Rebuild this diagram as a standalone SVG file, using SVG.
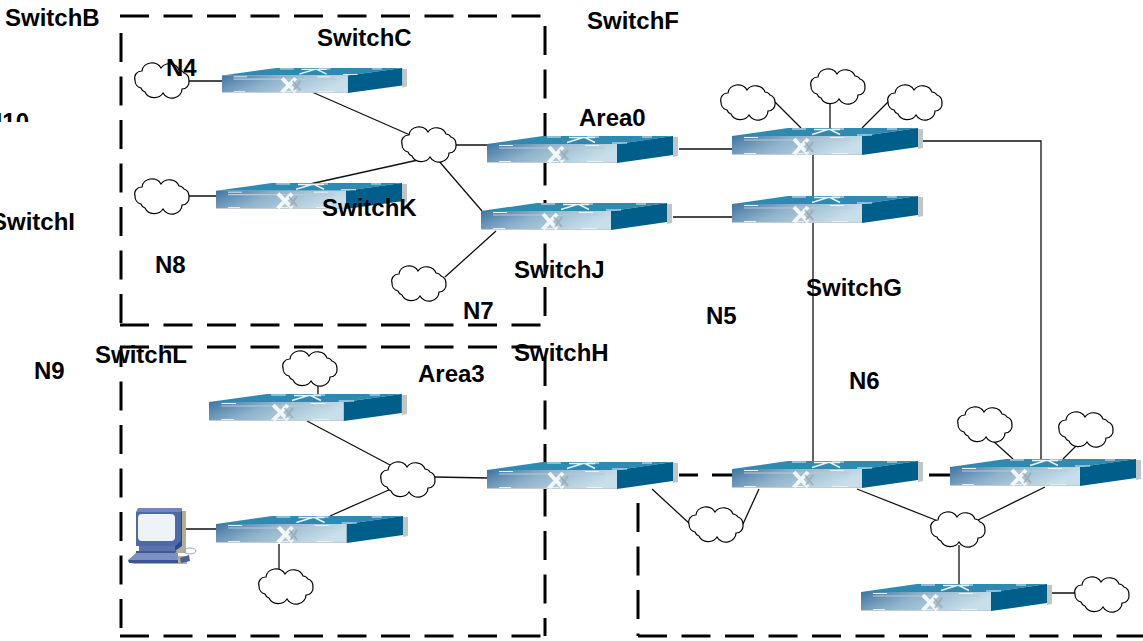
<svg xmlns="http://www.w3.org/2000/svg" xmlns:xlink="http://www.w3.org/1999/xlink" width="1143" height="641" viewBox="0 0 1143 641">
<style>
.dash{fill:none;stroke:#000;stroke-width:3;stroke-dasharray:29 14.5}
.wire{fill:none;stroke:#111;stroke-width:1.300}
.cloud{fill:#fff;stroke:#000;stroke-width:1.200}
text{font-family:"Liberation Sans",Arial,sans-serif;font-weight:bold;font-size:24px;fill:#000}
</style>
<defs>
<linearGradient id="front" x1="0" y1="0" x2="1" y2="0.3"><stop offset="0" stop-color="#3f75a2"/><stop offset="0.45" stop-color="#8fb2cb"/><stop offset="1" stop-color="#c8dfea"/></linearGradient>
<clipPath id="clipN10"><rect x="0" y="100" width="40" height="22"/></clipPath>
<symbol id="sw" viewBox="0 0 191 27" preserveAspectRatio="none" overflow="visible">
<polygon points="186,1 191,1 191,20 186,21" fill="#c4c4c4"/>
<polygon points="0,8 56,0 186,0 130,8" fill="#2f8ab2"/>
<rect x="0" y="8" width="130" height="18" fill="url(#front)"/>
<rect x="0" y="26" width="130" height="1" fill="#c3ccd2"/>
<polygon points="130,8 186,0 186,19 130,27" fill="#005f8a"/>
<path d="M12 12H118" stroke="#bcc8d2" stroke-width="1.200" fill="none"/>
<path d="M12 9.500H26M98 9.500H112M12 25.500H24M60 25.500H72M100 25.500H116M60 1H74M100 1H112M125 7H140M155 1H165" stroke="#e8f1f6" stroke-width="1" fill="none"/>
<path d="M62 11L76 26M76 11L62 26" stroke="#f4f7f9" stroke-width="4" fill="none"/>
<path d="M73 14L81 24M81 14L74 24" stroke="#98a2a8" stroke-width="2" fill="none" opacity=".7"/>
<path d="M82 1.500H98L108 6.500M108 1.500H96L80 6.500" stroke="#e8f2f7" stroke-width="1.500" fill="none"/>
</symbol>
<path id="cl" class="cloud" d="M-27 0A7 7 0 0 1 -20 -9A10 9 0 0 1 -1 -12A10 9 0 0 1 17 -10A6 6 0 0 1 22 -7A7 8 0 0 1 27 1A7 7 0 0 1 20 9A10 9 0 0 1 1 13A10 9 0 0 1 -17 12A6 6 0 0 1 -21 8A8 8 0 0 1 -27 0Z"/>
</defs>
<g id="zones">
<path class="dash" d="M120 16H545V326"/>
<path class="dash" d="M121 33V325"/>
<path class="dash" d="M120 325H545"/>
<path class="dash" d="M120 347H545V636"/>
<path class="dash" d="M121 347V636" stroke-dashoffset="9"/>
<path class="dash" d="M120 636H545"/>
<path class="dash" d="M638 636H1143"/>
<path class="dash" d="M638 503V636" stroke-dasharray="29 14.500"/>
<path class="dash" d="M679 475H698M712 475H732M929 475H950" stroke-dasharray="none"/>
</g>
<g id="connectors">
<path class="wire" d="M189 81H222M312 92L410 135M310 184L418 160M189 196H217M456 145H488M438 160L482 211M445 277L496 231"/>
<path class="wire" d="M679 149H733M673 217H733M813 155V196M813 222V461M919 141H1041V459M775 102L801 128M830 101V128M888 102L862 128"/>
<path class="wire" d="M307 421L390 465M391 489L330 516M318 384V394M183 529H217M279 544V572M435 477L488 478M652 489L690 524M743 524L759 489"/>
<path class="wire" d="M857 489L938 521M1045 487L978 520M959 545V584M1052 593H1075M992 440L1013 459M1078 444L1063 459"/>
</g>
<g id="SwitchC-node"><use xlink:href="#sw" href="#sw" x="222" y="68" width="185" height="25"/></g>
<g id="SwitchK-node"><use xlink:href="#sw" href="#sw" x="216" y="183" width="191" height="26"/></g>
<g id="Area0-switch"><use xlink:href="#sw" href="#sw" x="487" y="136" width="191" height="27"/></g>
<g id="SwitchJ-node"><use xlink:href="#sw" href="#sw" x="481" y="203" width="191" height="27"/></g>
<g id="SwitchF-node"><use xlink:href="#sw" href="#sw" x="732" y="128" width="191" height="27"/></g>
<g id="SwitchG-node"><use xlink:href="#sw" href="#sw" x="732" y="196" width="191" height="27"/></g>
<g id="SwitchH-node"><use xlink:href="#sw" href="#sw" x="487" y="462" width="191" height="27"/></g>
<g id="SwitchL-node"><use xlink:href="#sw" href="#sw" x="209" y="394" width="198" height="27"/></g>
<g id="SwitchPC-node"><use xlink:href="#sw" href="#sw" x="216" y="516" width="192" height="27"/></g>
<g id="SwitchMid-node"><use xlink:href="#sw" href="#sw" x="732" y="461" width="191" height="27"/></g>
<g id="SwitchRight-node"><use xlink:href="#sw" href="#sw" x="950" y="459" width="191" height="27"/></g>
<g id="SwitchBottom-node"><use xlink:href="#sw" href="#sw" x="861" y="584" width="191" height="27"/></g>
<g id="cloud-n4"><use xlink:href="#cl" href="#cl" x="162" y="80"/></g>
<g id="cloud-2"><use xlink:href="#cl" href="#cl" x="162" y="196"/></g>
<g id="cloud-hub1"><use xlink:href="#cl" href="#cl" x="429" y="144"/></g>
<g id="cloud-j"><use xlink:href="#cl" href="#cl" x="419" y="283"/></g>
<g id="cloud-f1"><use xlink:href="#cl" href="#cl" x="748" y="102"/></g>
<g id="cloud-f2"><use xlink:href="#cl" href="#cl" x="838" y="86"/></g>
<g id="cloud-f3"><use xlink:href="#cl" href="#cl" x="915" y="102"/></g>
<g id="cloud-l"><use xlink:href="#cl" href="#cl" x="310" y="368"/></g>
<g id="cloud-hub2"><use xlink:href="#cl" href="#cl" x="408" y="479"/></g>
<g id="cloud-pc"><use xlink:href="#cl" href="#cl" x="286" y="586"/></g>
<g id="cloud-mid"><use xlink:href="#cl" href="#cl" x="716" y="524"/></g>
<g id="cloud-r1"><use xlink:href="#cl" href="#cl" x="985" y="424"/></g>
<g id="cloud-r2"><use xlink:href="#cl" href="#cl" x="1086" y="429"/></g>
<g id="cloud-hub3"><use xlink:href="#cl" href="#cl" x="958" y="529"/></g>
<g id="cloud-b"><use xlink:href="#cl" href="#cl" x="1102" y="594"/></g>
<g id="pc">
<polygon points="132,564 140,556 187,556 187,564" fill="#b5ad90"/>
<rect x="140" y="511" width="46" height="42" fill="#b5ad90"/>
<polygon points="136,512 138,508 182,508 181,512" fill="#7087bb"/>
<polygon points="181,512 182,508 182,540 181,546" fill="#2d4a8f"/>
<rect x="136" y="512" width="45" height="34" fill="#4f68a6"/>
<rect x="138" y="514" width="37" height="27" rx="4" fill="#eef3f7"/>
<rect x="139" y="546" width="36" height="5" fill="#5a73ad"/>
<polygon points="175,546 182,540 182,546 175,551" fill="#2d4a8f"/>
<polygon points="136,551 177,551 172,556 136,556" fill="#3f5896"/>
<polygon points="128,560 136,553 178,553 178,560" fill="#7c91c2"/>
<polygon points="128,560 178,560 178,563 129,563" fill="#3b5590"/>
<ellipse cx="190" cy="551" rx="6" ry="3" fill="none" stroke="#9aa6c4"/>
<polygon points="180,558 189,555 190,561 181,563" fill="#4a6099"/>
</g>
<g id="labels">
<text x="5" y="26">SwitchB</text>
<text x="317" y="46">SwitchC</text>
<text x="587" y="29">SwitchF</text>
<text x="579" y="126">Area0</text>
<text x="166" y="76">N4</text>
<text x="29" y="130" text-anchor="end" clip-path="url(#clipN10)">N10</text>
<text x="75" y="230" text-anchor="end">SwitchI</text>
<text x="322" y="216">SwitchK</text>
<text x="155" y="273">N8</text>
<text x="514" y="278">SwitchJ</text>
<text x="463" y="319">N7</text>
<text x="806" y="296">SwitchG</text>
<text x="706" y="324">N5</text>
<text x="514" y="361">SwitchH</text>
<text x="95" y="363">SwitchL</text>
<text x="34" y="379">N9</text>
<text x="418" y="382">Area3</text>
<text x="849" y="389">N6</text>
</g>
</svg>
